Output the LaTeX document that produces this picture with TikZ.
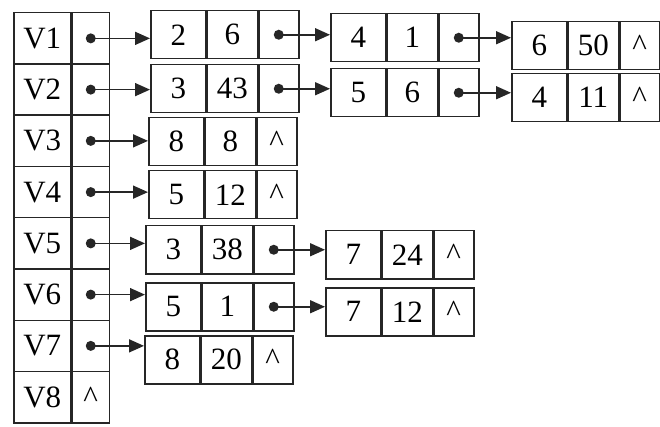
\documentclass[tikz,border=0pt]{standalone}
\usepackage{fontspec}
\setmainfont{Liberation Serif}
\usetikzlibrary{arrows.meta}
\tikzset{
  cell/.style={draw=black!85, line width=1.5pt, minimum height=48pt, inner sep=0pt, anchor=north west,
    font=\fontsize{31}{34}\selectfont},
  ca/.style={cell, minimum width=55pt},
  cb/.style={cell, minimum width=50pt},
  cc/.style={cell, minimum width=40pt},
  va/.style={cell, minimum width=57pt, minimum height=51.25pt},
  vb/.style={cell, minimum width=37pt, minimum height=51.25pt},
  ptr/.style={draw=black!85, line width=1.6pt, -{Triangle[length=15pt,width=13pt]}},
  dotp/.style={fill=black!85}
}
\newcommand\adjnode[6]{%
  \node[ca] (#1a) at (#2,#3) {#4};
  \node[cb] (#1b) at (#1a.north east) {#5};
  \node[cc] (#1c) at (#1b.north east) {#6};
}
\newcommand\vrow[4]{%
  \node[va] (v#1) at (13,#2) {#3};
  \node[vb] (p#1) at (v#1.north east) {#4};
}
\newcommand\nil{\textasciicircum}
\begin{document}
\begin{tikzpicture}[x=1pt,y=-1pt]
\useasboundingbox[fill=white] (0,0) rectangle (660,427);
% vertex table
\vrow{1}{12}{V1}{}
\vrow{2}{63.25}{V2}{}
\vrow{3}{114.5}{V3}{}
\vrow{4}{165.75}{V4}{}
\vrow{5}{217}{V5}{}
\vrow{6}{268.25}{V6}{}
\vrow{7}{319.5}{V7}{}
\vrow{8}{370.75}{V8}{\nil}
% first column
\adjnode{f1}{150}{10}{2}{6}{}
\adjnode{f2}{150}{64}{3}{43}{}
\adjnode{f3}{148}{117}{8}{8}{\nil}
\adjnode{f4}{148}{170}{5}{12}{\nil}
\adjnode{f5}{145}{225}{3}{38}{}
\adjnode{f6}{145}{282}{5}{1}{}
\adjnode{f7}{144}{335}{8}{20}{\nil}
% second column
\adjnode{s1}{330}{13}{4}{1}{}
\adjnode{s2}{330}{68}{5}{6}{}
\adjnode{s5}{325}{230}{7}{24}{\nil}
\adjnode{s6}{325}{287}{7}{12}{\nil}
% third column
\adjnode{t1}{511}{21}{6}{50}{\nil}
\adjnode{t2}{511}{73}{4}{11}{\nil}
% pointers from vertex table
\foreach \i in {1,...,7}{
  \fill[dotp] (p\i.center) circle (5pt);
  \draw[ptr] (p\i.center) -- (p\i.center -| f\i a.west);
}
% pointers between list nodes
\foreach \a/\b in {f1/s1, f2/s2, f5/s5, f6/s6, s1/t1, s2/t2}{
  \fill[dotp] (\a c.center) circle (5pt);
  \draw[ptr] (\a c.center) -- (\a c.center -| \b a.west);
}
\end{tikzpicture}
\end{document}
